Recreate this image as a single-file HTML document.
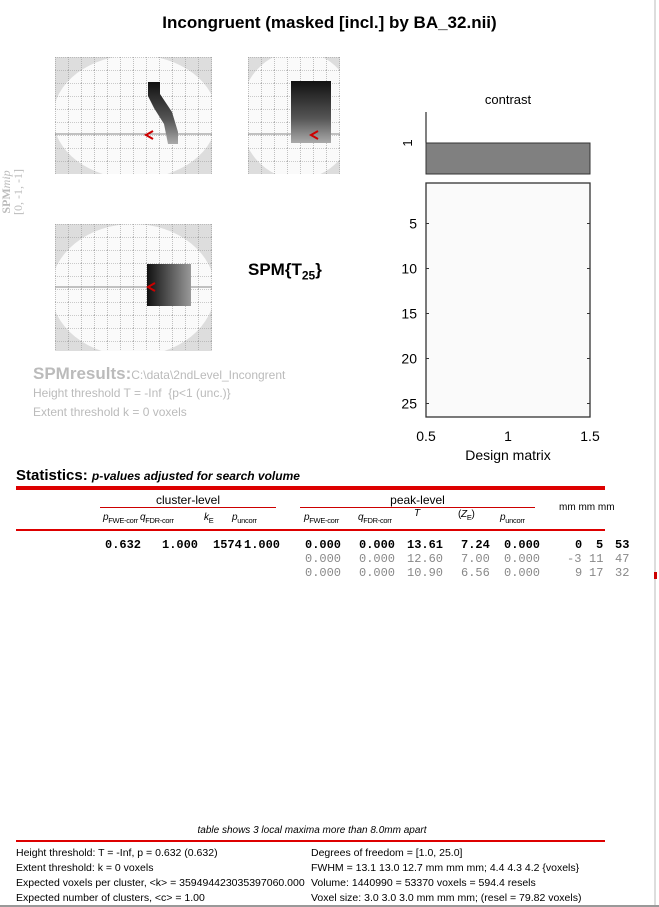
<!DOCTYPE html>
<html><head><meta charset="utf-8"><style>
body{margin:0;width:659px;height:907px;background:#fff;position:relative;overflow:hidden;font-family:"Liberation Sans",sans-serif}
.a{position:absolute;white-space:nowrap}
.r{position:absolute;top:0;left:0;font-family:"Liberation Mono",monospace;font-size:12px}
.r span{position:absolute;white-space:pre}
.h span{position:absolute;font-size:10px;font-style:italic;letter-spacing:-0.3px}
.h sub{font-style:normal;font-size:7.5px}
</style></head><body>
<div class="a" style="left:0;width:659px;text-align:center;top:13px;font-size:17px;font-weight:bold">Incongruent (masked [incl.] by BA_32.nii)</div>
<div class="a" style="left:-28px;top:180px;width:80px;transform:rotate(-90deg);font-family:'Liberation Serif',serif;color:#bbb;font-size:12px;line-height:12px;text-align:center"><b>SPM</b><i>mip</i><br>[0, -1, -1]</div>
<svg class="a" style="left:0;top:0" width="659" height="907">
<defs>
<pattern id="g" width="13" height="13" patternUnits="userSpaceOnUse"><path d="M0 .5H13M.5 0V13" stroke="#999" stroke-width=".6" stroke-dasharray="1 1" fill="none"/></pattern>
<linearGradient id="bl" x1="0" y1="0" x2="0" y2="1"><stop offset="0" stop-color="#111"/><stop offset=".6" stop-color="#555"/><stop offset="1" stop-color="#aaa"/></linearGradient>
<linearGradient id="bh" x1="0" y1="0" x2="1" y2="0"><stop offset="0" stop-color="#111"/><stop offset=".5" stop-color="#555"/><stop offset="1" stop-color="#999"/></linearGradient>
</defs>
<svg x="55" y="57" width="157" height="117"><rect width="157" height="117" fill="#ddd"/><ellipse cx="80" cy="60" rx="82" ry="62" fill="#fafafa"/><rect width="157" height="117" fill="url(#g)"/><line x1="0" y1="77" x2="157" y2="77" stroke="#888"/>
<path d="M93 25h12v12l12 18 6 20v12h-10l-4-20-10-16-6-12z" fill="url(#bl)"/><path d="M98 74l-7 4 7 4" stroke="#c00" stroke-width="2" fill="none"/></svg>
<svg x="248" y="57" width="92" height="117"><rect width="92" height="117" fill="#ddd"/><ellipse cx="50" cy="58" rx="58" ry="64" fill="#fafafa"/><rect width="92" height="117" fill="url(#g)"/><line x1="0" y1="77" x2="92" y2="77" stroke="#888"/>
<rect x="43" y="24" width="40" height="62" fill="url(#bl)"/><path d="M70 74l-7 4 7 4" stroke="#c00" stroke-width="2" fill="none"/></svg>
<svg x="55" y="224" width="157" height="127"><rect width="157" height="127" fill="#ddd"/><ellipse cx="78" cy="66" rx="82" ry="66" fill="#fafafa"/><rect width="157" height="127" fill="url(#g)"/><line x1="0" y1="63" x2="157" y2="63" stroke="#888"/>
<rect x="92" y="40" width="44" height="42" fill="url(#bh)"/><path d="M100 59l-7 4 7 4" stroke="#c00" stroke-width="2" fill="none"/></svg>
</svg>
<div class="a" style="left:248px;top:260px;font-size:17px;font-weight:bold">SPM{T<sub style="font-size:12px">25</sub>}</div>
<div class="a" style="left:33px;top:364px;color:#bbb"><b style="font-size:17px">SPMresults:</b><span style="font-size:12px">C:\data\2ndLevel_Incongrent</span></div>
<div class="a" style="left:33px;top:386px;color:#bbb;font-size:12px">Height threshold T = -Inf &nbsp;{p&lt;1 (unc.)}</div>
<div class="a" style="left:33px;top:405px;color:#bbb;font-size:12px">Extent threshold k = 0 voxels</div>

<svg id="dm" class="a" style="left:0;top:0" width="659" height="907"></svg>
<script>
const contrastValues=[1];
const designRows=[1,1,1,1,1,1,1,1,1,1,1,1,1,1,1,1,1,1,1,1,1,1,1,1,1,1];
const yTicks=[5,10,15,20,25];
const xTicks=[0.5,1,1.5];
const svg=document.getElementById('dm');const NS='http://www.w3.org/2000/svg';
function mk(t,a,p){const e=document.createElementNS(NS,t);for(const k in a)e.setAttribute(k,a[k]);(p||svg).appendChild(e);return e;}
const x=v=>426+(v-0.5)*164;
const y=r=>183+(r-0.5)*9;
let t=mk('text',{x:508,y:104,'font-size':13,'text-anchor':'middle','font-family':'Liberation Sans'});t.textContent='contrast';


mk('line',{x1:426,y1:112,x2:426,y2:174,stroke:'#000'});
contrastValues.forEach((v,i)=>{const r=mk('rect',{x:x(0.5),y:143,width:x(1.5)-x(0.5),height:31,fill:`rgb(${Math.round(128/v)},128,128)`,stroke:'#333'});

});
let l=mk('text',{x:0,y:0,'font-size':13,'text-anchor':'middle',transform:'translate(412 143) rotate(-90)'});l.textContent='1';
designRows.forEach((v,i)=>{const c=Math.round(250-(1-v)*200);const r=mk('rect',{x:x(0.5),y:y(i+0.5),width:x(1.5)-x(0.5),height:9,fill:`rgb(${c},${c},${c})`});

});
const box=mk('rect',{x:x(0.5),y:y(0.5),width:x(1.5)-x(0.5),height:y(designRows.length+0.5)-y(0.5),fill:'none',stroke:'#333','stroke-width':1.3});


yTicks.forEach(v=>{const tt=mk('text',{x:417,y:y(v)+5,'font-size':14,'text-anchor':'end'});tt.textContent=v;


mk('line',{x1:426,x2:429,y1:y(v),y2:y(v),stroke:'#333'});mk('line',{x1:587,x2:590,y1:y(v),y2:y(v),stroke:'#333'});});
xTicks.forEach(v=>{const tt=mk('text',{x:x(v),y:441,'font-size':14,'text-anchor':'middle'});tt.textContent=v;

});
t=mk('text',{x:508,y:460,'font-size':14,'text-anchor':'middle'});t.textContent='Design matrix';


</script>
<div class="a" style="left:654px;top:0;width:2px;height:907px;background:#ddd"></div>
<div class="a" style="left:654px;top:572px;width:3px;height:7px;background:#c00"></div>

<div class="a" style="left:16px;top:467px;font-size:15px"><b>Statistics:</b> <b><i style="font-size:12px">p-values adjusted for search volume</i></b></div>
<div class="a" style="left:16px;top:486px;width:589px;height:4px;background:#d00"></div>
<div class="a" style="left:100px;top:493px;width:176px;text-align:center;font-size:12px;border-bottom:1px solid #c00">cluster-level</div>
<div class="a" style="left:300px;top:493px;width:235px;text-align:center;font-size:12px;border-bottom:1px solid #c00">peak-level</div>
<div class="a" style="left:559px;top:502px;font-size:10px">mm mm mm</div>
<div class="a h" style="left:0;top:512px">
<span style="left:103px">p<sub>FWE-corr</sub></span><span style="left:140px">q<sub>FDR-corr</sub></span><span style="left:204px">k<sub>E</sub></span><span style="left:232px">p<sub>uncorr</sub></span>
<span style="left:304px">p<sub>FWE-corr</sub></span><span style="left:358px">q<sub>FDR-corr</sub></span><span style="left:414px;top:-4px">T</span><span style="left:458px;top:-3px;font-style:normal">(<i>Z</i><sub>E</sub>)</span><span style="left:500px">p<sub>uncorr</sub></span></div>
<div class="a" style="left:16px;top:529px;width:589px;height:2px;background:#d00"></div>
<div class="a" style="left:0;top:538px;width:659px;height:14px"><div class="r" style="font-weight:bold">
<span style="left:105px">0.632</span><span style="left:162px">1.000</span><span style="left:213px">1574</span><span style="left:244px">1.000</span><span style="left:305px">0.000</span><span style="left:359px">0.000</span><span style="left:407px">13.61</span><span style="left:461px">7.24</span><span style="left:504px">0.000</span><span style="left:575px">0</span><span style="left:596px">5</span><span style="left:615px">53</span></div></div>
<div class="a" style="left:0;top:552px;width:659px;height:14px"><div class="r" style="color:#888">
<span style="left:305px">0.000</span><span style="left:359px">0.000</span><span style="left:407px">12.60</span><span style="left:461px">7.00</span><span style="left:504px">0.000</span><span style="left:567px">-3</span><span style="left:589px">11</span><span style="left:615px">47</span></div></div>
<div class="a" style="left:0;top:566px;width:659px;height:14px"><div class="r" style="color:#888">
<span style="left:305px">0.000</span><span style="left:359px">0.000</span><span style="left:407px">10.90</span><span style="left:461px">6.56</span><span style="left:504px">0.000</span><span style="left:575px">9</span><span style="left:589px">17</span><span style="left:615px">32</span></div></div>

<div class="a" style="left:0;width:624px;text-align:center;top:825px;font-size:10px;font-style:italic">table shows 3 local maxima more than 8.0mm apart</div>
<div class="a" style="left:16px;top:840px;width:589px;height:2px;background:#d00"></div>
<div class="a" style="left:16px;top:846px;font-size:10.5px;line-height:15px">Height threshold: T = -Inf, p = 0.632 (0.632)<br>Extent threshold: k = 0 voxels<br>Expected voxels per cluster, &lt;k&gt; = 359494423035397060.000<br>Expected number of clusters, &lt;c&gt; = 1.00</div>
<div class="a" style="left:311px;top:846px;font-size:10.5px;line-height:15px">Degrees of freedom = [1.0, 25.0]<br>FWHM = 13.1 13.0 12.7 mm mm mm; 4.4 4.3 4.2 {voxels}<br>Volume: 1440990 = 53370 voxels = 594.4 resels<br>Voxel size: 3.0 3.0 3.0 mm mm mm; (resel = 79.82 voxels)</div>
<div class="a" style="left:0;top:905px;width:659px;height:2px;background:#999"></div>
</body></html>
